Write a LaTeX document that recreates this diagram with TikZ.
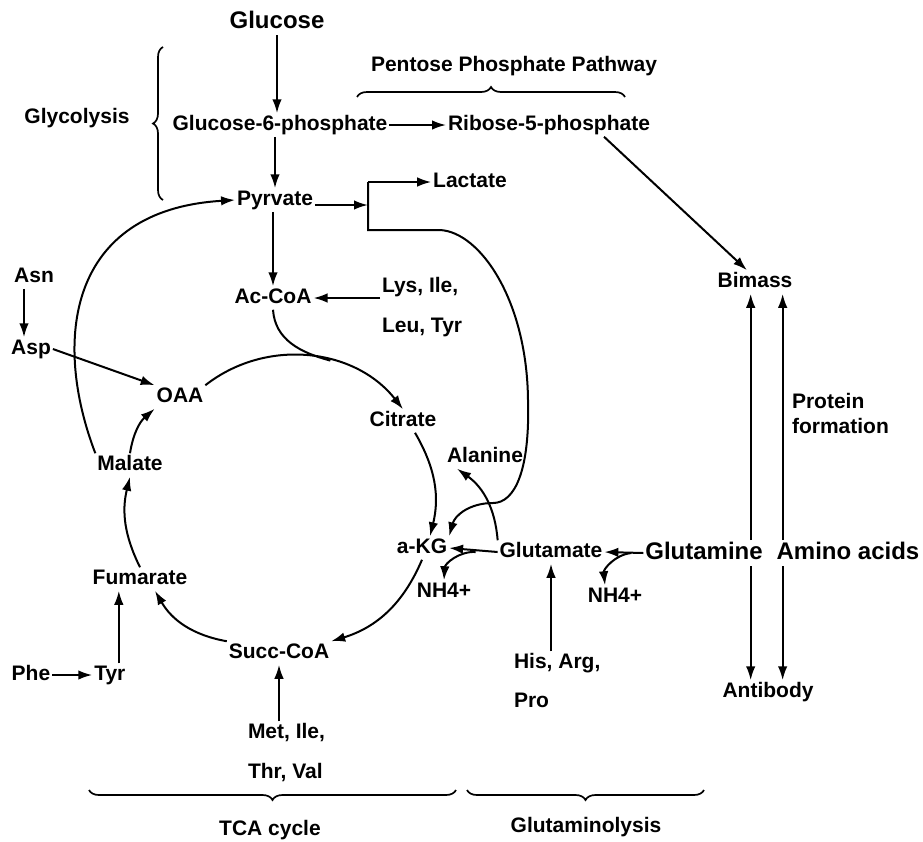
\documentclass[tikz,border=0pt]{standalone}
\usepackage{fontspec}
\setmainfont{Liberation Sans}
\usetikzlibrary{arrows.meta, positioning, decorations.pathreplacing}

\begin{document}
\begin{tikzpicture}[x=1pt,y=-1pt,font=\fontsize{21}{25}\selectfont\bfseries,
	->,>={Latex[length=14pt,width=9.5pt]},line width=2pt,
	inner sep=1pt,text height=15pt,text depth=4.5pt]

	\tikzset{big/.style={font=\fontsize{24}{28}\selectfont\bfseries,
			text height=17pt,text depth=5pt}}
	\tikzset{brc/.style={-,line width=1.7pt,decorate,
			decoration={brace,amplitude=10pt}}}

	\useasboundingbox (0,0) rectangle (923,841);

	\node[big] (glc) at (277,22) {Glucose};
	\node (g6p) at (280,125) {Glucose-6-phosphate};
	\node (r5p) at (549,125) {Ribose-5-phosphate};
	\node (ppp) at (514,66) {Pentose Phosphate Pathway};
	\node (glyco) at (77,118) {Glycolysis};
	\node (pyr) at (275,200) {Pyrvate};
	\node (lac) at (470,182) {Lactate};
	\node (acoa) at (273,298) {Ac-CoA};
	\node[anchor=west] (lys) at (380,287) {Lys, Ile,};
	\node[anchor=west] (leu) at (380,327) {Leu, Tyr};

	\node (asn) at (34,277) {Asn};
	\node (asp) at (31,349) {Asp};
	\node (oaa) at (180,397) {OAA};
	\node (cit) at (403,421) {Citrate};
	\node (mal) at (130,465) {Malate};
	\node (fum) at (140,579) {Fumarate};
	\node (akg) at (422,548) {a-KG};
	\node (scoa) at (279,653) {Succ-CoA};
	\node (phe) at (31,675) {Phe};
	\node[right=40pt of phe] (tyr) {Tyr};
	\node[anchor=west] (met) at (246,733) {Met, Ile,};
	\node[anchor=west] (thr) at (246,773) {Thr, Val};

	\node (ala) at (485,457) {Alanine};
	\node (glu) at (551,552) {Glutamate};
	\node[big] (gln) at (704,553) {Glutamine};
	\node[big] (aa) at (848,553) {Amino acids};
	\node (nh4a) at (444,592) {NH4+};
	\node (nh4b) at (615,597) {NH4+};
	\node[anchor=west] (his) at (512,663) {His, Arg,};
	\node[anchor=west] (pro) at (512,702) {Pro};

	\node (bim) at (755,282) {Bimass};
	\node (ab) at (768,692) {Antibody};
	\node[anchor=west] (prot) at (790,403) {Protein};
	\node[anchor=west] (form) at (790,428) {formation};

	\node (tca) at (270,830) {TCA cycle};
	\node (glnlys) at (586,827) {Glutaminolysis};

	\coordinate (split) at (368,205);
	\coordinate (asnout) at ([xshift=-10pt]asn.south);
	\coordinate (tyrout) at ([xshift=9pt]tyr.north);
	\coordinate (upl) at ([xshift=-14pt]gln.north east);
	\coordinate (upr) at ([xshift=8pt]aa.north west);
	\coordinate (dnl) at ([xshift=-14pt]gln.south east);
	\coordinate (dnr) at ([xshift=8pt]aa.south west);
	\coordinate (r5pout) at ([xshift=55pt]r5p.south);
	\coordinate (bimin) at ([xshift=-8pt]bim.north);

	\draw[-]
	(glc.south) edge[->] (glc.south |- g6p.north)
	(g6p.east) edge[->] (r5p.west)
	(pyr.north |- g6p.south) edge[->] (pyr.north)
	(acoa.north |- pyr.south) edge[->] (acoa.north)
	(r5pout) edge[->] (bimin)
	(asnout) edge[->] (asnout |- asp.north)
	(asp.east) edge[->] (oaa.north west)
	(lys.west |- acoa) edge[->] (acoa.east)
	(phe) edge[->] (tyr)
	(tyrout) edge[->] (tyrout |- fum.south)
	(met.north -| scoa) edge[->] (scoa.south)
	(his.north -| glu) edge[->] (glu.south)
	(glu.west) edge[->] (akg.east)
	(gln.west) edge[->] (glu.east)
	(upl) edge[->] (upl |- bim.south)
	(upr) edge[->] (upr |- bim.south)
	(dnl) edge[->] (dnl |- ab.north)
	(dnr) edge[->] (dnr |- ab.north);

	\draw (oaa.north east) to[bend left=45] coordinate[pos=0.6] (join) (cit.north);
	\draw[-] (acoa.south) .. controls +(2,30) and +(-30,-8) .. (join);
	\draw ([xshift=12pt]cit.south) to[bend left=22] ([xshift=8pt]akg.north);
	\draw (akg.south) to[bend left=25] (scoa.north east);
	\draw (scoa.north west) to[bend left=25] ([xshift=15pt]fum.south);
	\draw (fum.north) to[bend left=20] (mal.south);
	\draw (mal.north) to[bend left=20] (oaa.south west);
	\draw (mal.north west) .. controls (52,340) and (68,210) .. (pyr.west);

	\draw (pyr.east |- split) -- (split);
	\draw (split |- lac.west) -- (lac.west);
	\draw (split |- lac.west) -- (368,230) -- (440,230)
	.. controls (480,232) and (527,300) .. (528,400)
	.. controls (530,470) and (515,503) .. (493,503)
	.. controls (470,503) and (455,515) .. (akg.north east);

	\draw (glu.north west) to[bend right=25] ([xshift=12pt]ala.south west);
	\draw ([xshift=-22pt]glu.west) to[bend right=45] (nh4a.north);
	\draw ([xshift=-12pt]gln.west) to[bend right=45] ([xshift=-10pt]nh4b.north);

	\draw[brc] (163,200) -- (163,47);
	\draw[brc] (357,97) -- (625,97);
	\draw[brc] (456,790) -- (89,790);
	\draw[brc] (704,790) -- (467,790);
\end{tikzpicture}
\end{document}
